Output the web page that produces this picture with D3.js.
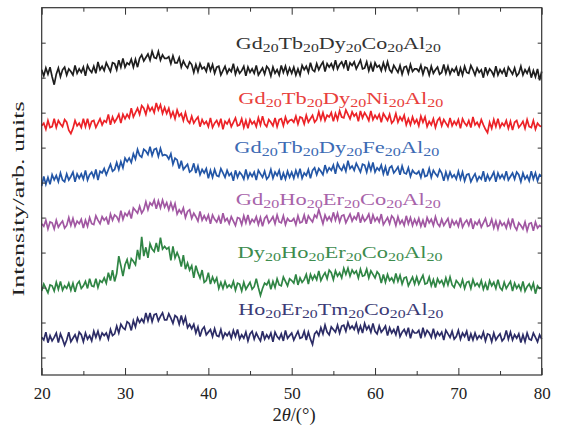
<!DOCTYPE html>
<html>
<head>
<meta charset="utf-8">
<script src="https://cdn.jsdelivr.net/npm/d3@7"></script>
<style>
  body { margin: 0; background: #fff; }
</style>
</head>
<body>
<div id="container"></div>
<script>
let w = 566;
let h = 433;

// 2theta sampling of the scans (degrees)
let angleStart = 20;
let angleStep = 0.25;

let xTicks = [20, 30, 40, 50, 60, 70, 80];
let xMinorTicks = [25, 35, 45, 55, 65, 75];
let yTicks = [20, 60, 100, 140, 180, 220, 260, 300, 340, 380];

// vertical offset of each stacked scan (arb. units)
let offsets = [346, 286, 223, 172, 100, 42];

// intensities, one value every 0.25 deg from 20 to 80
let gdTbDyCo = [
  3,-4,5,-2, 6,-5,-14,-2,
  5,-5,3,6, -3,4,1,-3,
  8,-1,4,0, 6,-4,8,3,
  0,7,-1,12, 3,7,2,11,
  6,1,11,10, 3,14,6,16,
  6,11,9,15, 6,15,6,16,
  20,13,17,21, 14,24,17,16,
  24,14,20,16, 16,18,10,19,
  11,11,17,6, 13,8,5,12,
  9,0,9,1, 10,4,6,1,
  11,2,9,-1, 6,7,-3,2,
  7,-1,4,1, 10,-2,5,-1,
  2,7,-4,6, 0,4,-1,8,
  -3,1,5,-2, 7,4,-4,6,
  -1,3,-3,8, 0,7,-2,5,
  -1,6,-3,4, -3,8,3,7,
  0,11,3,1, 10,3,8,12,
  1,10,6,10, 4,14,4,9,
  12,6,14,2, 11,8,12,4,
  9,14,4,5, 12,2,10,1,
  11,6,8,2, 11,3,12,3,
  0,8,4,0, 8,-2,6,7,
  -1,9,1,4, 4,1,8,-2,
  6,5,-3,7, -1,3,6,-2,
  0,9,-1,7, -2,4,1,6,
  -4,5,-3,7, 0,-1,8,3,
  -3,5,0,3, -6,6,-2,4,
  1,-4,7,-3, 3,-1,4,-5,
  6,2,-2,5, -4,-1,7,-3,
  3,-1,5,-6, 2,-5,4,-9,
  1
];

let gdTbDyNi = [
  -1,2,-5,5, -3,-2,7,-3,
  5,1,-2,6, 3,-6,-10,-4,
  5,-1,2,-3, 7,-2,7,-3,
  4,5,-3,2, 7,0,5,3,
  12,0,9,3, 7,12,2,12,
  7,12,8,19, 9,14,19,12,
  22,19,12,22, 16,20,14,25,
  17,23,13,20, 13,19,9,15,
  7,17,10,13, 5,14,5,2,
  10,2,6,9, -2,6,1,4,
  -2,8,-3,2, 5,-1,7,-5,
  4,1,6,-2, 3,8,-1,0,
  7,-3,5,-4, 6,1,4,-2,
  8,0,10,1, -2,6,3,-1,
  8,-2,6,7, -1,9,2,5,
  6,3,10,1, 9,8,1,11,
  3,7,11,3, 6,15,6,14,
  5,11,9,14, 4,13,6,16,
  9,8,17,12, 7,15,10,13,
  4,16,8,14, 10,5,16,6,
  11,7,12,3, 13,9,5,12,
  2,5,13,3, 9,5,11,0,
  7,0,9,2, 6,-1,10,3,
  9,-2,4,0, 7,-3,5,8,
  -1,6,2,-2, 8,-1,4,0,
  6,-4,7,2, -1,5,-3,9,
  0,3,-2,6, 0,-5,-9,3,
  -4,6,-2,7, -3,2,-1,5,
  -4,4,-6,3, 5,-3,0,4,
  -4,6,-2,-3, 5,-5,2,-1,
  -2
];

let gdTbDyFe = [
  -7,4,-5,3, -5,6,0,5,
  -2,8,0,-2, 7,0,4,9,
  -2,7,2,7, 1,11,0,6,
  9,3,12,0, 10,8,13,6,
  12,18,10,12, 20,12,21,14,
  25,21,25,20, 30,24,35,28,
  26,35,33,29, 38,28,35,36,
  27,36,28,29, 28,24,30,18,
  25,23,13,22, 12,15,18,9,
  11,19,8,16, 6,12,8,13,
  2,11,3,12, 5,4,13,8,
  3,11,5,8, -1,11,3,9,
  6,1,12,2, 8,4,9,0,
  11,7,3,10, 1,4,12,2,
  9,5,11,0, 8,1,10,3,
  9,2,11,4, 13,2,8,5,
  12,2,11,14, 6,13,10,6,
  17,9,14,11, 17,7,19,14,
  11,17,10,22, 13,16,11,19,
  14,9,18,17, 9,19,11,20,
  9,14,11,17, 7,15,5,14,
  16,8,11,15, 6,16,8,7,
  14,4,11,8, 7,10,3,13,
  4,5,13,3, 11,7,4,12,
  8,-1,9,1, 9,3,6,1,
  10,1,9,-1, 6,7,-2,3,
  7,-1,4,1, 10,-2,6,0,
  4,9,-2,8, 2,6,1,10,
  0,4,8,1, 9,6,-2,8,
  1,5,-1,10, 1,8,-1,6,
  4
];

let gdHoErCo = [
  1,-2,5,-5, 3,2,-5,5,
  -3,1,4,-4, -1,8,-1,7,
  -2,4,1,6, -4,5,-2,8,
  1,0,10,5, 1,9,5,8,
  0,12,5,11, 9,4,16,6,
  13,10,15,7, 19,16,13,21,
  13,17,26,17, 25,22,28,18,
  27,19,28,20, 25,17,25,17,
  24,12,17,13, 19,8,15,17,
  7,13,9,4, 15,5,10,5,
  11,1,11,6, 3,9,1,13,
  4,7,1,9, 4,-1,8,7,
  0,10,2,11, 1,6,3,9,
  0,8,-2,7, 10,2,5,9,
  1,11,3,2, 10,0,7,4,
  4,7,0,10, 2,3,11,1,
  10,6,3,11, 8,17,9,1,
  11,5,9,4, 14,5,13,3,
  10,11,2,7, 12,4,9,6,
  14,2,10,4, 7,12,1,11,
  4,8,3,12, 0,4,8,1,
  10,7,-1,9, 1,5,-1,10,
  1,8,-1,6, 0,7,-2,5,
  -3,8,2,6, -1,9,1,-2,
  6,-1,3,7, -4,5,0,4,
  -2,8,-3,2, 5,-1,7,-5,
  3,0,5,-3, 2,7,-2,-1,
  6,-4,4,-5, 4,-1,2,-4,
  5,-3,7,-2, -6,2,-1,-5,
  3,-7,1,2, -7,3,-4,-1,
  -3
];

let dyHoErCo = [
  -4,4,-1,-6, 3,2,-4,6,
  -2,7,-3,2, -1,5,-3,5,
  -5,4,7,-1, 2,7,-1,10,
  2,1,10,0, 8,6,11,5,
  17,8,20,7, 16,36,25,13,
  26,32,21,33, 30,26,43,32,
  58,36,46,34, 50,44,41,51,
  41,57,44,47, 44,46,31,47,
  34,40,34,24, 37,21,28,20,
  25,11,25,17, 11,20,6,8,
  17,4,12,6, 11,-1,6,-1,
  7,0,3,0, 7,-3,5,4,
  -4,6,-2,2, 6,-2,1,10,
  0,-9,-1,5, 3,8,-2,7,
  0,10,3,2, 12,7,2,10,
  8,5,15,3, 11,6,9,15,
  4,15,9,14, 9,19,8,13,
  17,10,20,17, 9,19,13,17,
  11,22,15,22, 13,20,16,19,
  11,21,13,14, 21,11,19,15,
  11,18,15,5, 15,6,15,8,
  11,6,16,7, 14,4,11,12,
  2,7,12,4, 12,4,9,14,
  4,5,12,2, 9,0,10,5,
  8,2,11,3, 12,3,0,8,
  5,1,9,-1, 6,7,-1,9,
  2,5,1,8, -2,5,-3,8,
  2,6,-1,9, 0,-3,6,-1,
  3,7,-4,5, -1,3,-3,7,
  -4,1,4,-2, 5,-7,2,-1,
  0
];

let hoErTmCo = [
  1,-2,7,-5, 3,-3,1,6,
  -5,5,-1,-8, -2,7,-4,0,
  4,-3,7,4, -4,6,-1,3,
  -3,8,1,8, -1,6,3,6,
  -1,10,3,5, 14,6,16,12,
  10,19,17,9, 20,13,23,18,
  22,18,29,20, 29,19,27,28,
  20,25,29,21, 21,28,23,17,
  26,24,16,26, 17,24,12,16,
  11,16,6,13, 2,10,13,4,
  7,10,2,11, 3,2,10,0,
  6,3,7,0, 9,2,10,-1,
  4,0,7,-3, 5,8,-1,6,
  1,-3,8,-1, 4,0,6,-4,
  7,2,-1,5, -3,9,0,3,
  6,-2,3,8, 0,1,8,-2,
  7,-1,-7,5, 8,3,12,5,
  15,7,4,13, 10,7,15,6,
  14,15,8,18, 11,14,10,17,
  7,14,6,17, 10,14,7,17,
  8,5,14,7, 10,14,3,12,
  6,10,4,14, 2,7,10,4,
  12,0,9,6, 6,9,0,12,
  3,9,6,1, 11,1,7,3,
  7,-2,9,5, 1,8,-1,2,
  9,-1,6,2, 8,-3,5,-2,
  6,-1,3,0, 7,-3,5,4,
  -4,6,-2,2, 5,-3,0,9,
  -1,7,-2,4, 0,5,-5,4,
  -4,6,-1,-2, 6,1,-4,4,
  -1
];

let scans = [gdTbDyCo, gdTbDyNi, gdTbDyFe, gdHoErCo, dyHoErCo, hoErTmCo];

// sample names: [element, subscript]
let sampleNames = [
  [["Gd", "20"], ["Tb", "20"], ["Dy", "20"], ["Co", "20"], ["Al", "20"]],
  [["Gd", "20"], ["Tb", "20"], ["Dy", "20"], ["Ni", "20"], ["Al", "20"]],
  [["Gd", "20"], ["Tb", "20"], ["Dy", "20"], ["Fe", "20"], ["Al", "20"]],
  [["Gd", "20"], ["Ho", "20"], ["Er", "20"], ["Co", "20"], ["Al", "20"]],
  [["Dy", "20"], ["Ho", "20"], ["Er", "20"], ["Co", "20"], ["Al", "20"]],
  [["Ho", "20"], ["Er", "20"], ["Tm", "20"], ["Co", "20"], ["Al", "20"]]
];

// where each name sits, in data coordinates (2theta, intensity)
let nameAt = [[55.6, 373], [55.9, 310], [55.4, 253.5], [55.6, 194.5], [55.8, 133.5], [55.9, 68.5]];

let lineColors = ["#1e1e1e", "#ec2227", "#2356a6", "#a157a2", "#2f8544", "#2c2c66"];
let textColors = ["#333333", "#e8403c", "#3d6bb4", "#a864aa", "#3d8c4e", "#3b3b76"];

let margin = { left: 41.7, right: 541.7, top: 7.7, bottom: 375 };

let x = d3.scaleLinear().domain([20, 80]).range([margin.left, margin.right]);
let y = d3.scaleLinear().domain([0, 420]).range([margin.bottom, margin.top]);

let viz = d3.select("#container")
  .append("svg")
    .attr("width", w)
    .attr("height", h)
    .style("background-color", "#ffffff");

// scans
scans.forEach(function (scan, k) {
  let line = d3.line()
    .x((d, i) => x(angleStart + i * angleStep))
    .y(d => y(offsets[k] + d));
  viz.append("path")
    .datum(scan)
    .attr("d", line)
    .attr("fill", "none")
    .attr("stroke", lineColors[k])
    .attr("stroke-width", 1.7)
    .attr("stroke-linejoin", "miter");
});

// sample names
sampleNames.forEach(function (parts, k) {
  let t = viz.append("text")
    .attr("x", x(nameAt[k][0]))
    .attr("y", y(nameAt[k][1]))
    .attr("text-anchor", "middle")
    .attr("textLength", 205)
    .attr("lengthAdjust", "spacingAndGlyphs")
    .attr("fill", textColors[k])
    .style("font-family", "'Liberation Serif', serif");
  parts.forEach(function (p, j) {
    t.append("tspan")
      .attr("dy", j == 0 ? 0 : -3)
      .style("font-size", "17.5px")
      .text(p[0]);
    t.append("tspan")
      .attr("dy", 3)
      .style("font-size", "12.5px")
      .text(p[1]);
  });
});

// axes, ticks pointing inwards
let axisColor = "#333333";

let bottom = viz.append("g")
  .attr("transform", "translate(0," + margin.bottom + ")")
  .call(d3.axisBottom(x).tickValues(xTicks).tickSize(-7).tickPadding(12).tickFormat(d3.format("d")));
viz.append("g")
  .attr("transform", "translate(0," + margin.bottom + ")")
  .call(d3.axisBottom(x).tickValues(xMinorTicks).tickSize(-4).tickFormat(""));
viz.append("g")
  .attr("transform", "translate(0," + margin.top + ")")
  .call(d3.axisTop(x).tickValues(xTicks).tickSize(-7).tickFormat(""));
viz.append("g")
  .attr("transform", "translate(0," + margin.top + ")")
  .call(d3.axisTop(x).tickValues(xMinorTicks).tickSize(-4).tickFormat(""));
viz.append("g")
  .attr("transform", "translate(" + margin.left + ",0)")
  .call(d3.axisLeft(y).tickValues(yTicks).tickSize(-4).tickFormat(""));
viz.append("g")
  .attr("transform", "translate(" + margin.right + ",0)")
  .call(d3.axisRight(y).tickValues(yTicks).tickSize(-4).tickFormat(""));

viz.selectAll(".domain").remove();
viz.selectAll(".tick line").attr("stroke", axisColor).attr("stroke-width", 1);

bottom.selectAll("text")
  .attr("fill", "#222")
  .style("font-family", "'Liberation Serif', serif")
  .style("font-size", "17px");

viz.append("rect")
  .attr("x", margin.left)
  .attr("y", margin.top)
  .attr("width", margin.right - margin.left)
  .attr("height", margin.bottom - margin.top)
  .attr("fill", "none")
  .attr("stroke", axisColor)
  .attr("stroke-width", 1.2);

// axis titles
let xTitle = viz.append("text")
  .attr("x", 294)
  .attr("y", 421)
  .attr("text-anchor", "middle")
  .attr("fill", "#222")
  .style("font-family", "'Liberation Serif', serif")
  .style("font-size", "18.5px");
xTitle.append("tspan").text("2");
xTitle.append("tspan").style("font-style", "italic").text("θ");
xTitle.append("tspan").text("/(°)");

viz.append("text")
  .attr("transform", "translate(24,199) rotate(-90)")
  .attr("text-anchor", "middle")
  .attr("textLength", 195)
  .attr("lengthAdjust", "spacingAndGlyphs")
  .attr("fill", "#222")
  .style("font-family", "'Liberation Serif', serif")
  .style("font-size", "16px")
  .text("Intensity/arb. units");
</script>
</body>
</html>
